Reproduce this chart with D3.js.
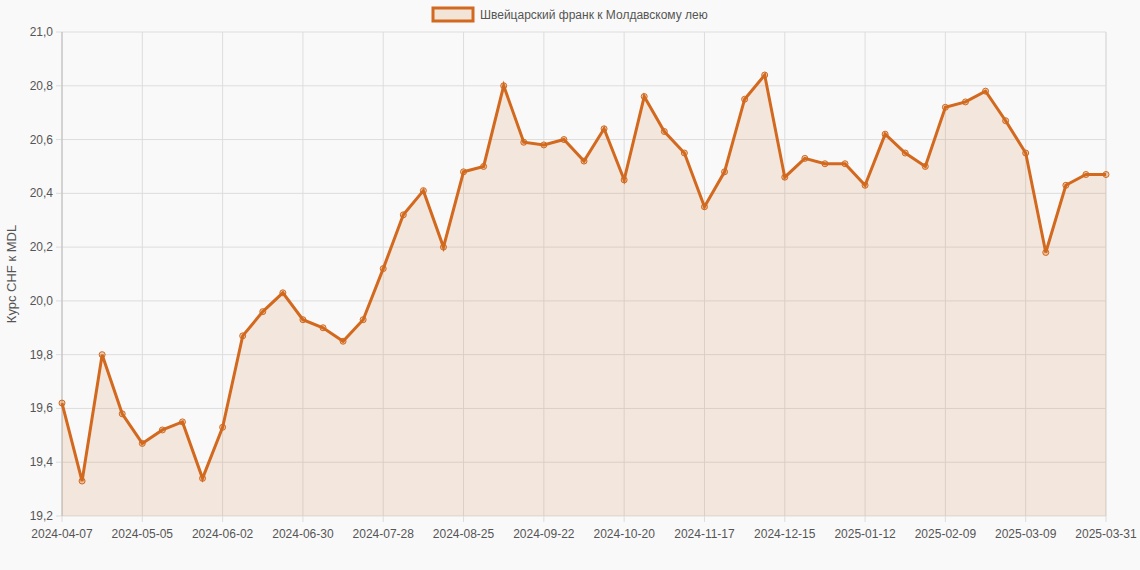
<!DOCTYPE html><html><head><meta charset="utf-8"><script src="https://cdn.jsdelivr.net/npm/d3@7"></script>
<style>body{margin:0;background:#f9f9f9}text{font-family:"Liberation Sans",Arial,sans-serif}</style></head><body><svg id="c" width="1140" height="570"></svg><script>
const startDate="2024-04-07";
const values=[19.62,19.33,19.80,19.58,19.47,19.52,19.55,19.34,19.53,19.87,19.96,20.03,19.93,19.90,19.85,19.93,20.12,20.32,20.41,20.20,20.48,20.50,20.80,20.59,20.58,20.60,20.52,20.64,20.45,20.76,20.63,20.55,20.35,20.48,20.75,20.84,20.46,20.53,20.51,20.51,20.43,20.62,20.55,20.50,20.72,20.74,20.78,20.67,20.55,20.18,20.43,20.47,20.47];
const yTicks=[19.2,19.4,19.6,19.8,20.0,20.2,20.4,20.6,20.8,21.0];
const seriesName="Швейцарский франк к Молдавскому лею";
const yTitle="Курс CHF к MDL";
const fmt=d3.utcFormat("%Y-%m-%d");
const dates=values.map((v,i)=>{const d=new Date(startDate+"T00:00:00Z");d.setUTCDate(d.getUTCDate()+7*i);return fmt(d);});
dates[dates.length-1]="2025-03-31";
const svg=d3.select("#c");
const L=62,R=1106,T=32,B=516,col="#d2691e";
const x=d3.scalePoint().domain(dates).range([L,R]);
const y=d3.scaleLinear().domain([19.2,21.0]).range([B,T]);
const tickIdx=dates.map((d,i)=>i).filter(i=>i%4===0||i===dates.length-1);
const g=svg.append("g");
tickIdx.forEach(i=>g.append("line").attr("x1",x(dates[i])).attr("x2",x(dates[i])).attr("y1",T).attr("y2",B+6).attr("stroke","#ddd"));
g.append("line").attr("x1",R).attr("x2",R).attr("y1",T).attr("y2",B).attr("stroke","#ddd");
yTicks.forEach(t=>g.append("line").attr("x1",L-6).attr("x2",R).attr("y1",y(t)).attr("y2",y(t)).attr("stroke","#ddd"));
g.append("line").attr("x1",L).attr("x2",L).attr("y1",T).attr("y2",B).attr("stroke","#bbb");
yTicks.forEach(t=>svg.append("text").attr("x",L-9).attr("y",y(t)+4).attr("text-anchor","end").attr("font-size",12).attr("fill","#555").text(d3.format(".1f")(t).replace(".",",")));
tickIdx.forEach(i=>svg.append("text").attr("x",x(dates[i])).attr("y",B+22).attr("text-anchor","middle").attr("font-size",12).attr("fill","#555").text(dates[i]));
svg.append("text").attr("transform",`translate(16,${(T+B)/2}) rotate(-90)`).attr("text-anchor","middle").attr("font-size",13).attr("fill","#555").text(yTitle);
svg.append("path").datum(values).attr("d",d3.area().x((d,i)=>x(dates[i])).y0(B).y1(d=>y(d))).attr("fill","rgba(210,105,30,0.13)");
svg.append("path").datum(values).attr("d",d3.line().x((d,i)=>x(dates[i])).y(d=>y(d))).attr("fill","none").attr("stroke",col).attr("stroke-width",3);
svg.selectAll("circle").data(values).join("circle").attr("cx",(d,i)=>x(dates[i])).attr("cy",d=>y(d)).attr("r",3).attr("fill","rgba(210,105,30,0.3)").attr("stroke",col).attr("stroke-width",1);
svg.append("rect").attr("x",433).attr("y",8).attr("width",40).attr("height",13).attr("fill","rgba(210,105,30,0.15)").attr("stroke",col).attr("stroke-width",3);
svg.append("text").attr("x",480).attr("y",19).attr("font-size",12).attr("fill","#555").text(seriesName);
</script></body></html>
